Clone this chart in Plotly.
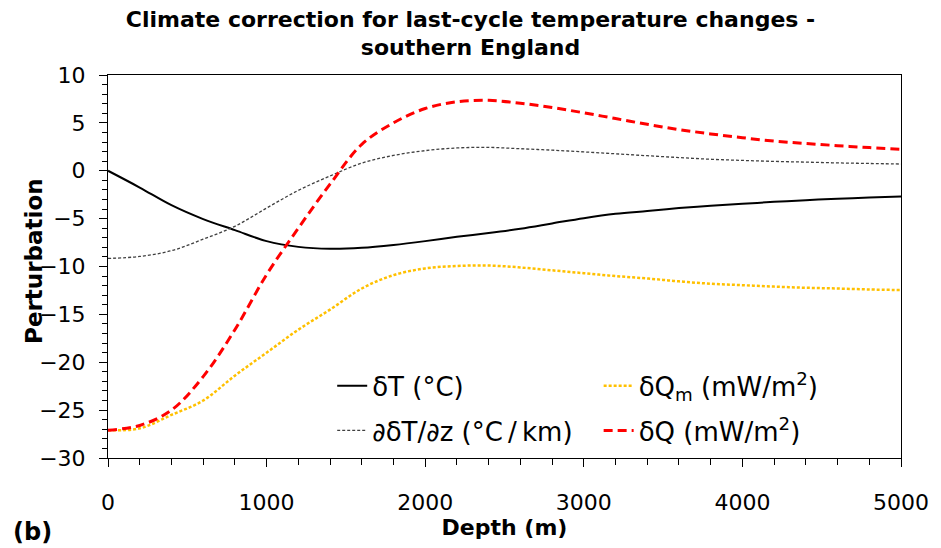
import plotly.graph_objects as go

# Depth below surface (m)
depth = [0, 200, 400, 600, 800, 1000, 1200, 1400, 1600, 1800, 2000, 2200, 2400,
         2600, 2800, 3000, 3200, 3400, 3600, 3800, 4000, 4200, 4400, 4600, 4800, 5000]

# Temperature perturbation dT (degC)
delta_t = [0.0, -1.75, -3.6, -5.05, -6.2, -7.35, -7.95, -8.15, -8.05, -7.75, -7.35, -6.9, -6.5,
           -6.05, -5.5, -4.95, -4.5, -4.2, -3.9, -3.65, -3.45, -3.25, -3.07, -2.93, -2.8, -2.68]

# Temperature gradient perturbation (degC/km)
grad_t = [-9.16, -8.95, -8.35, -7.15, -5.8, -3.9, -2.05, -0.55, 0.8, 1.6, 2.1, 2.38, 2.44,
          2.3, 2.15, 1.97, 1.77, 1.57, 1.38, 1.2, 1.08, 0.98, 0.9, 0.82, 0.76, 0.7]

# Measured heat-flow perturbation dQm (mW/m2)
delta_qm = [-27.1, -26.9, -25.5, -24.0, -21.4, -19.0, -16.6, -14.5, -12.3, -10.9, -10.2, -9.95, -9.9,
            -10.1, -10.4, -10.7, -11.0, -11.25, -11.55, -11.8, -11.95, -12.1, -12.22, -12.3, -12.4, -12.46]

# Heat-flow perturbation dQ (mW/m2)
delta_q = [-27.1, -26.6, -25.0, -21.5, -16.6, -10.85, -6.0, -1.4, 2.75, 5.0, 6.5, 7.2, 7.35,
           7.05, 6.6, 6.05, 5.45, 4.85, 4.3, 3.85, 3.45, 3.1, 2.85, 2.62, 2.42, 2.25]

FONT = "DejaVu Sans"

# plot-area size in pixels, used to place free text in paper coordinates
PLOT_W, PLOT_H = 803, 383

fig = go.Figure()
fig.add_trace(go.Scatter(x=depth, y=delta_t, mode="lines", name="δT (°C)",
                         line=dict(color="black", width=2, shape="spline"),
                         legend="legend", legendgroup="a"))
fig.add_trace(go.Scatter(x=depth, y=grad_t, mode="lines",
                         name="∂δT/∂z (°C\u2009/\u2009km)",
                         line=dict(color="#404040", width=1.3, dash="3px,2px", shape="spline"),
                         legend="legend", legendgroup="b"))
fig.add_trace(go.Scatter(x=depth, y=delta_qm, mode="lines", name="δQ<sub>m</sub> (mW/m<sup>2</sup>)",
                         line=dict(color="#FFC000", width=2.5, dash="3px,2px", shape="spline"),
                         legend="legend2", legendgroup="c"))
fig.add_trace(go.Scatter(x=depth, y=delta_q, mode="lines", name="δQ (mW/m<sup>2</sup>)",
                         line=dict(color="#FF0000", width=3, dash="9px,5px", shape="spline"),
                         legend="legend2", legendgroup="d"))

legend_common = dict(font=dict(family=FONT, size=26, color="black"),
                     bgcolor="rgba(255,255,255,0)", borderwidth=0,
                     traceorder="grouped", tracegroupgap=8,
                     xanchor="left", yanchor="top", itemwidth=30)

fig.update_layout(
    width=941, height=548,
    margin=dict(l=108, r=30, t=75, b=90),
    paper_bgcolor="white", plot_bgcolor="white",
    font=dict(family=FONT, color="black"),
    title=dict(text="Climate correction for last-cycle temperature changes -<br>southern England",
               font=dict(family=FONT, size=22, weight="bold", color="black"),
               x=0.5, xref="container", xanchor="center",
               y=0.951, yref="container", yanchor="top"),
    xaxis=dict(range=[0, 5000], dtick=1000, tick0=0,
               showline=True, linecolor="black", linewidth=1, mirror=True,
               ticks="outside", ticklen=8, tickcolor="black", tickwidth=1,
               minor=dict(dtick=200, ticks="outside", ticklen=6, tickcolor="black"),
               showgrid=False, zeroline=False,
               tickfont=dict(family=FONT, size=22), ticklabelstandoff=17,
               title=dict(text="Depth (m)", font=dict(family=FONT, size=22, weight="bold"),
                          standoff=1)),
    yaxis=dict(range=[-30, 10], dtick=5, tick0=0,
               showline=True, linecolor="black", linewidth=1, mirror=True,
               ticks="outside", ticklen=8, tickcolor="black", tickwidth=1,
               minor=dict(dtick=1, ticks="outside", ticklen=5, tickcolor="black"),
               showgrid=False, zeroline=False,
               tickfont=dict(family=FONT, size=22), ticklabelstandoff=9),
    legend=dict(x=0.2765 + 5 / PLOT_W, y=0.25, **legend_common),
    legend2=dict(x=0.61 + 7 / PLOT_W, y=0.25, **legend_common),
)

# y-axis title, set closer to the tick labels
fig.add_annotation(text="<b>Perturbation</b>", textangle=-90, xref="paper", yref="paper",
                   x=(33 - 108) / PLOT_W, y=(458 - 261) / PLOT_H,
                   xanchor="center", yanchor="middle", showarrow=False,
                   font=dict(family=FONT, size=23, color="black"))

# panel label
fig.add_annotation(text="<b>(b)</b>", xref="paper", yref="paper",
                   x=(10 - 108) / PLOT_W, y=-(532 - 458) / PLOT_H,
                   xanchor="left", yanchor="middle",
                   showarrow=False, font=dict(family=FONT, size=24, color="black"))

fig.write_html("out.html")
